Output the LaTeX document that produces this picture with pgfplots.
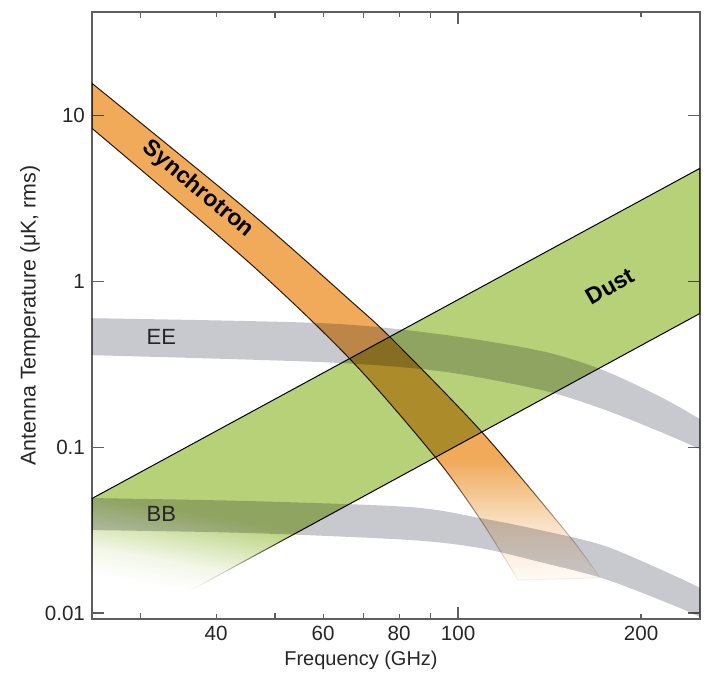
\documentclass[border=0pt]{standalone}
\usepackage{pgfplots}
\pgfplotsset{compat=1.18}
\usepgfplotslibrary{fillbetween}
\usetikzlibrary{fadings}
\usepackage{fontspec}
\setmainfont{Liberation Sans}

\definecolor{synorange}{RGB}{240,170,90}
\definecolor{synedge}{RGB}{45,32,15}
\definecolor{dustgreen}{RGB}{183,209,121}
\definecolor{bandgray}{RGB}{200,201,206}
\definecolor{axgray}{RGB}{95,95,95}

% fadings, 400bp tall, centred on the axis box (axis box is 304pt x 303.5pt)
\pgfdeclareverticalshading{dustfadeshade}{420bp}{color(0bp)=(transparent!100); color(47bp)=(transparent!100); color(60bp)=(transparent!82); color(86bp)=(transparent!0); color(400bp)=(transparent!0)}
\pgfdeclarefading{dustfade}{\pgfuseshading{dustfadeshade}}
\pgfdeclareverticalshading{synfadeshade}{420bp}{color(0bp)=(transparent!100); color(64bp)=(transparent!100); color(96bp)=(transparent!65); color(128bp)=(transparent!0); color(400bp)=(transparent!0)}
\pgfdeclarefading{synfade}{\pgfuseshading{synfadeshade}}

\begin{document}
\begin{tikzpicture}
\begin{axis}[
  at={(0,0)}, anchor=south west,
  scale only axis, width=304pt, height=303.5pt,
  xmode=log, ymode=log,
  xmin=25, xmax=250, ymin=0.0092, ymax=42,
  axis line style={draw=axgray, line width=0.75pt},
  every tick/.style={axgray, line width=0.6pt},
  major tick length=2.7pt, minor tick length=3pt,
  xtick={40,60,80,200}, xticklabels={40,60,80,200},
  minor xtick={30,50,70,90},
  extra x ticks={100}, extra x tick labels={100},
  extra x tick style={major tick length=6pt},
  ytick=\empty,
  extra y ticks={0.01,0.1,1,10}, extra y tick labels={0.01,0.1,1,10},
  extra y tick style={major tick length=6pt},
  minor ytick={0.02,0.03,0.04,0.05,0.06,0.07,0.08,0.09,0.2,0.3,0.4,0.5,0.6,0.7,0.8,0.9,2,3,4,5,6,7,8,9,20,30,40},
  tick label style={font=\fontsize{10.3}{12}\selectfont, text=black!85},
  xlabel={Frequency (GHz)},
  xlabel style={at={(axis description cs:0.4424,-0.0675)}, anchor=center, font=\fontsize{10}{12}\selectfont, text=black!85},
  ylabel={Antenna Temperature (μK, rms)},
  ylabel style={at={(axis description cs:-0.102,0.5)}, anchor=center, font=\fontsize{10.7}{12}\selectfont, text=black!85},
]
% Dust band
\addplot[fill=dustgreen, draw=black, line width=0.5pt, blend mode=multiply,
  path fading=dustfade, fit fading=false, fading transform={xshift=152pt, yshift=151.75pt, rotate=-10}]
  coordinates {(25,0.049) (250,4.8) (250,0.64) (25,0.0065)} -- cycle;

% EE band
\addplot[name path=eeU, draw=none, smooth, forget plot]
  coordinates {(25,0.5985) (59.97,0.5585) (93.4,0.4793) (137.4,0.3788) (173.2,0.2910) (215.7,0.2001) (250,0.1475)};
\addplot[name path=eeL, draw=none, smooth, forget plot]
  coordinates {(25,0.3583) (59.97,0.3251) (93.4,0.2870) (137.4,0.2205) (173.2,0.1694) (215.7,0.1231) (250,0.0973)};
\addplot[fill=bandgray, draw=none, blend mode=multiply] fill between[of=eeU and eeL];

% BB band
\addplot[name path=bbU, draw=none, smooth, forget plot]
  coordinates {(25,0.0493) (45.48,0.04727) (83.37,0.04351) (108.7,0.03736) (136.4,0.03162) (174.5,0.02533) (227.5,0.01671) (250,0.01415)};
\addplot[name path=bbL, draw=none, smooth, forget plot]
  coordinates {(25,0.03162) (45.48,0.03033) (83.37,0.02754) (108.7,0.02464) (136.4,0.02029) (174.5,0.01602) (227.5,0.01102) (250,0.00946)};
\addplot[fill=bandgray, draw=none, blend mode=multiply] fill between[of=bbU and bbL];

% Synchrotron band
\addplot[name path=synU, draw=none, smooth, forget plot]
  coordinates {(25,15.6) (45.5,2.60) (66.43,0.768) (77.9,0.448) (109.5,0.123) (152.9,0.0287) (171,0.0163)};
\addplot[name path=synL, draw=none, smooth, forget plot]
  coordinates {(25,8.35) (45.5,1.28) (66.7,0.334) (91.7,0.0871) (108.7,0.03684) (125.5,0.0158)};
\addplot[fill=synorange, draw=synedge, line width=0.5pt, blend mode=multiply,
  path fading=synfade, fit fading=false, fading transform={xshift=152pt, yshift=151.75pt}]
  fill between[of=synU and synL];

\node[rotate=-40, font=\bfseries\fontsize{11.5}{13}\selectfont] at (axis cs:37.35,3.58) {Synchrotron};
\node[rotate=30, font=\bfseries\fontsize{11.5}{13}\selectfont] at (axis cs:177.8,0.933) {Dust};
\node[font=\fontsize{11}{13}\selectfont, text=black!85] at (axis cs:32.5,0.460) {EE};
\node[font=\fontsize{11}{13}\selectfont, text=black!85] at (axis cs:32.5,0.0395) {BB};
\end{axis}
\pgfresetboundingbox
\useasboundingbox (-46pt,-30pt) rectangle (307.5pt,309.5pt);
\end{tikzpicture}
\end{document}
